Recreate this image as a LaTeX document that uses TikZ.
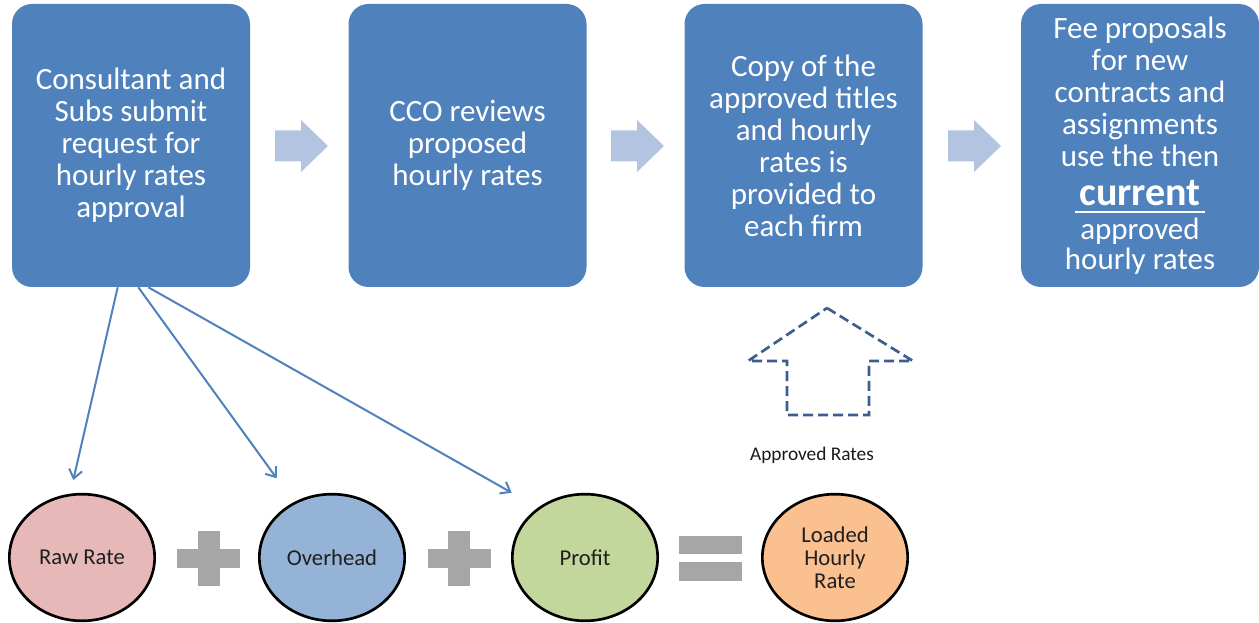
\documentclass[tikz,border=0pt]{standalone}
\usepackage{fontspec}
\setmainfont{Carlito}
\usetikzlibrary{arrows.meta,calc,shapes.geometric}
\definecolor{boxblue}{HTML}{4F81BD}
\definecolor{chevblue}{HTML}{B3C4E0}
\definecolor{dashblue}{HTML}{3B5E8C}
\definecolor{rawfill}{HTML}{E6B9B8}
\definecolor{ovhfill}{HTML}{95B3D7}
\definecolor{profill}{HTML}{C3D69B}
\definecolor{loadfill}{HTML}{FAC090}
\definecolor{opgray}{HTML}{A6A6A6}
\newcommand\ulword[1]{\setbox0=\hbox{#1}\rlap{\kern-3pt\rule[-6pt]{\dimexpr\wd0+6pt\relax}{1.5pt}}\box0}
\begin{document}
\begin{tikzpicture}[x=0.75pt,y=-0.75pt,
  stepbox/.style={fill=boxblue, rounded corners=15pt, minimum width=178.5pt,
    minimum height=212.25pt, text=white, align=center,
    font=\fontsize{23.25}{24}\selectfont, inner sep=0pt},
  circ/.style={ellipse, draw=black, line width=2pt, minimum width=109pt,
    minimum height=95pt, inner sep=0pt, align=center,
    font=\fontsize{17}{17.25}\selectfont, text=black!88},
  feed/.style={draw=boxblue, line width=1.5pt,
    -{Straight Barb[length=6.5pt,width=10pt,line width=1.5pt]}},
  chev/.style={fill=chevblue},
  opfill/.style={fill=opgray},
  chevron/.pic={\fill[chev] (0,-15.5) -- (26,-15.5) -- (26,-26) -- (53,0)
    -- (26,26) -- (26,15.5) -- (0,15.5) -- cycle;},
  plussign/.pic={\fill[opfill] (-31.5,-9.5) rectangle (31.5,9.5);
    \fill[opfill] (-11,-27.5) rectangle (11,27.5);},
  equalsign/.pic={\fill[opfill] (-31.5,-22.5) rectangle (31.5,-4.5);
    \fill[opfill] (-31.5,3.5) rectangle (31.5,22.5);},
  ]
\useasboundingbox (0,0) rectangle (1259,623);

% process boxes
\node[stepbox] (box1) at (131,145.5) {Consultant and\\Subs submit\\request for\\hourly rates\\approval};
\node[stepbox] (box2) at (467.5,145.5) {CCO reviews\\proposed\\hourly rates};
\node[stepbox] (box3) at (803.5,145.5) {Copy of the\\approved titles\\and hourly\\rates is\\provided to\\each firm};
\node[stepbox] (box4) at (1140,145.5) {Fee proposals\\for new\\contracts and\\assignments\\use the then\\[5.25pt]\ulword{\fontsize{30}{30}\selectfont\bfseries current}\\[1.5pt]approved\\[-1.5pt]hourly rates};

% block arrows between boxes
\pic at (275,146) {chevron};
\pic at (611,146) {chevron};
\pic at (948,146) {chevron};

% dashed up arrow
\draw[dashblue, line width=2pt, dash pattern=on 7.5pt off 3.75pt]
  (827,308) -- (913,361) -- (869,361) -- (869,415) -- (787,415)
  -- (787,361) -- (748,361) -- cycle;
\node[font=\fontsize{14.5}{16}\selectfont, text=black!90] (appr) at (812,455) {Approved Rates};

% formula
\node[circ, fill=rawfill] (raw) at (82,557.5) {Raw Rate};
\node[circ, fill=ovhfill] (ovh) at (332,557.5) {Overhead};
\node[circ, fill=profill] (pro) at (585,557.5) {Profit};
\node[circ, fill=loadfill] (load) at (835,557.5) {Loaded\\Hourly\\Rate};
\pic at (208.5,558) {plussign};
\pic at (459,558) {plussign};
\pic at (710.5,558.5) {equalsign};

% connectors from first box
\coordinate (s1) at ($(box1.south)+(-13.3,0)$);
\coordinate (s2) at ($(box1.south)+(7.3,0)$);
\coordinate (s3) at ($(box1.south)+(17.3,0)$);
\coordinate (t1) at (73.3,480);
\coordinate (t2) at (276.7,478.3);
\coordinate (t3) at (511.7,492.7);
\draw[feed] (s1) -- (t1);
\draw[feed] (s2) -- (t2);
\draw[feed] (s3) -- (t3);
\end{tikzpicture}
\end{document}
